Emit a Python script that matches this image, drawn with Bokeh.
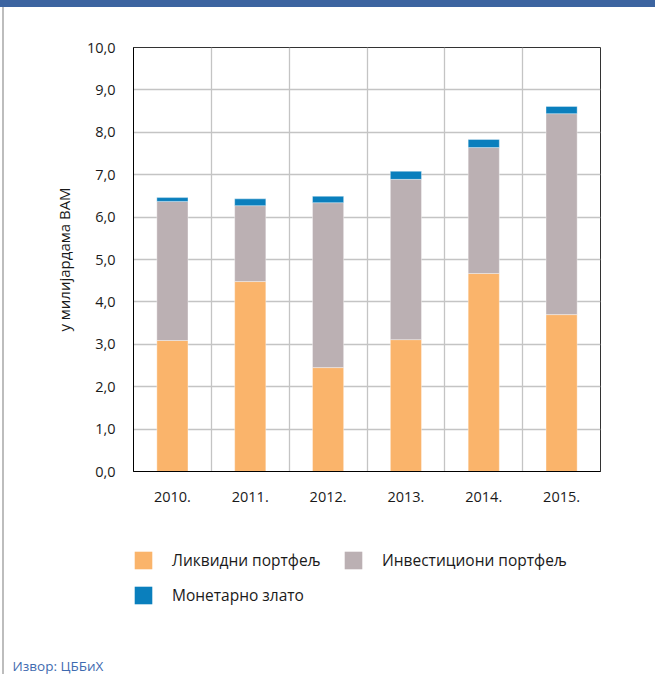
from bokeh.plotting import figure
from bokeh.models import (ColumnDataSource, Range1d, FixedTicker, Legend, LegendItem,
                          Label, Div)
from bokeh.layouts import column, row
from bokeh.embed import file_html
from bokeh.resources import INLINE

years = ["2010.", "2011.", "2012.", "2013.", "2014.", "2015."]
likvidni = [3.09, 4.48, 2.45, 3.11, 4.67, 3.70]
investicioni = [3.28, 1.79, 3.89, 3.78, 2.97, 4.74]
zlato = [0.09, 0.16, 0.15, 0.19, 0.19, 0.17]
series_names = ["Ликвидни портфељ", "Инвестициони портфељ", "Монетарно злато"]
series_colors = ["#fab46b", "#bbb0b3", "#0a7fbd"]
y_ticks = [0, 1, 2, 3, 4, 5, 6, 7, 8, 9, 10]
y_tick_labels = ["0,0", "1,0", "2,0", "3,0", "4,0", "5,0", "6,0", "7,0", "8,0", "9,0", "10,0"]
y_label = "у милијардама BAM"
source_text = "Извор: ЦББиХ"

FONT = "Open Sans"
LEFT_PAD = 2
LINE_W = 2
OFF = LEFT_PAD + LINE_W
W = 651
BAND_H = 7
CHART_H = 510
LEG_H = 157

xpos = [i + 0.5 for i in range(len(years))]
src = ColumnDataSource(dict(x=xpos, liq=likvidni, inv=investicioni, gold=zlato))
stack_cols = ["liq", "inv", "gold"]

# ---------------- chart ----------------
p = figure(width=W, height=CHART_H, output_backend="svg", toolbar_location=None,
           x_range=Range1d(0, len(years)), y_range=Range1d(0, 10),
           min_border_left=133 - OFF, min_border_right=W - (600 - OFF),
           min_border_top=47 - BAND_H, min_border_bottom=BAND_H + CHART_H - 471,
           background_fill_color="white", border_fill_color="white")

rs = p.vbar_stack(stack_cols, x="x", width=0.4, source=src,
                  color=series_colors, line_color="white", line_width=0.6, line_alpha=0.6)

p.xaxis.ticker = FixedTicker(ticks=xpos)
p.xaxis.major_label_overrides = {x: y for x, y in zip(xpos, years)}
p.yaxis.ticker = FixedTicker(ticks=y_ticks)
p.yaxis.major_label_overrides = {t: l for t, l in zip(y_ticks, y_tick_labels)}
for ax in (p.xaxis[0], p.yaxis[0]):
    ax.axis_line_color = "black"
    ax.axis_line_width = 1
    ax.major_tick_line_color = None
    ax.minor_tick_line_color = None
    ax.major_tick_out = 0
    ax.major_tick_in = 0
    ax.minor_tick_out = 0
    ax.major_label_text_font = FONT
    ax.major_label_text_font_size = "14.5px"
    ax.major_label_text_color = "#1a1a1a"
p.xaxis.major_label_standoff = 20
p.yaxis.major_label_standoff = 18
p.yaxis.axis_label = y_label
p.yaxis.axis_label_text_font = FONT
p.yaxis.axis_label_text_font_size = "15px"
p.yaxis.axis_label_text_font_style = "normal"
p.yaxis.axis_label_text_color = "#1a1a1a"
p.yaxis.axis_label_standoff = 10

p.ygrid.ticker = FixedTicker(ticks=y_ticks)
p.xgrid.ticker = FixedTicker(ticks=list(range(1, len(years))))
for g in (p.xgrid[0], p.ygrid[0]):
    g.grid_line_color = "#c4c4c4"
    g.grid_line_width = 1.3
p.outline_line_color = "#333333"
p.outline_line_width = 1

# ---------------- legend + source panel ----------------
q = figure(width=W, height=LEG_H, output_backend="svg", toolbar_location=None,
           x_range=Range1d(0, 1), y_range=Range1d(0, 1),
           min_border=0, min_border_left=0, min_border_right=0,
           min_border_top=0, min_border_bottom=0,
           background_fill_color="white", border_fill_color="white")
q.frame_align = False
q.axis.visible = False
q.grid.visible = False
q.outline_line_color = None
qrs = q.vbar_stack(stack_cols, x="x", width=0.4, source=src, color=series_colors,
                   line_color=None)
for r in qrs:
    r.visible = False

q_top = BAND_H + CHART_H
items = [LegendItem(label=n, renderers=[r]) for n, r in zip(series_names, qrs)]
leg = Legend(items=items, location=(132 - OFF, q_top + LEG_H - 606), orientation="horizontal",
             ncols=2, glyph_width=22, glyph_height=22, label_height=22, label_width=157,
             label_standoff=18, spacing=13, padding=0, margin=0,
             label_text_font=FONT, label_text_font_size="15.5px",
             label_text_color="#1a1a1a", border_line_alpha=0,
             background_fill_alpha=0, inactive_fill_alpha=0)
q.add_layout(leg, "center")

q.add_layout(Label(x=12 - OFF, y=0, x_units="screen", y_units="screen", text=source_text,
                   text_font=FONT, text_font_size="13.5px", text_color="#3f6bb0"))

band = Div(width=W + OFF, height=BAND_H, margin=0, styles={"background-color": "#3c64a0"})
pad = Div(width=LEFT_PAD, height=CHART_H + LEG_H, margin=0)
vline = Div(width=LINE_W, height=CHART_H + LEG_H, margin=0,
            styles={"background-color": "#bdbdbd"})

layout = column(band, row(pad, vline, column(p, q, spacing=0), spacing=0), spacing=0)
open("out.html", "w").write(file_html(layout, INLINE))
